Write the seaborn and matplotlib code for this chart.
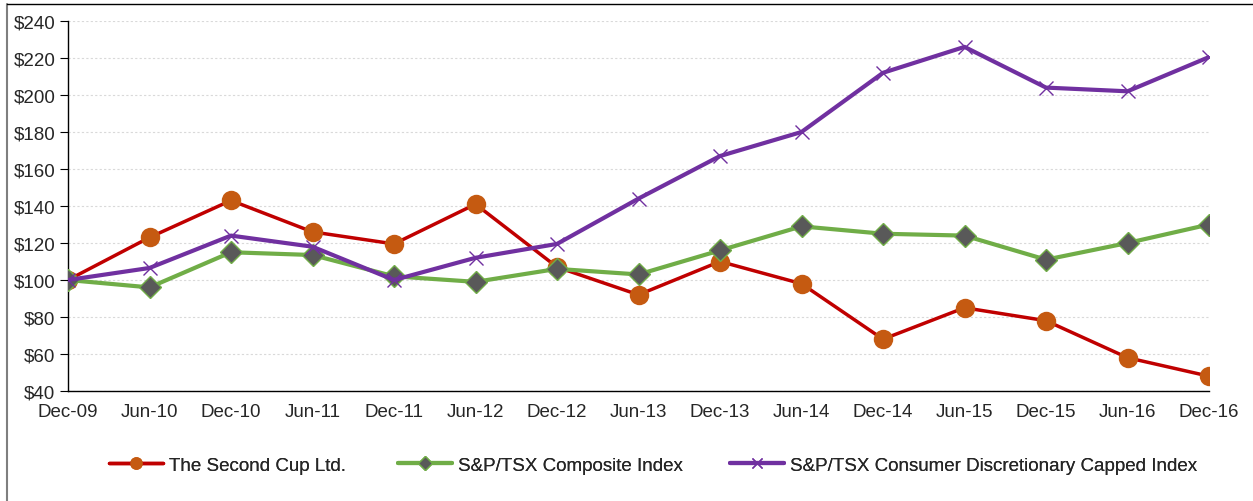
import matplotlib
matplotlib.use("Agg")
import matplotlib.pyplot as plt
import matplotlib.lines as mlines
import pandas as pd
import seaborn as sns

periods = ["Dec-09", "Jun-10", "Dec-10", "Jun-11", "Dec-11", "Jun-12", "Dec-12",
           "Jun-13", "Dec-13", "Jun-14", "Dec-14", "Jun-15", "Dec-15", "Jun-16", "Dec-16"]
second_cup = [100, 123, 143, 126, 119.5, 141, 107, 92, 110, 98, 68, 85, 78, 58, 48]
composite = [100, 96, 115, 113.5, 102, 99, 106, 103, 116, 129, 125, 124, 111, 120, 130]
consumer_disc = [100, 106.5, 124, 118, 100, 112, 119.5, 144, 167, 180, 212, 226, 204, 202, 220.5]
y_ticks = list(range(40, 241, 20))

series_names = ["The Second Cup Ltd.", "S&P/TSX Composite Index",
                "S&P/TSX Consumer Discretionary Capped Index"]

df = pd.DataFrame({
    "period": periods * 3,
    "x": list(range(len(periods))) * 3,
    "value": second_cup + composite + consumer_disc,
    "series": [series_names[0]] * len(periods) + [series_names[1]] * len(periods)
              + [series_names[2]] * len(periods),
})

sns.set_style("white")
plt.rcParams["font.family"] = ["Liberation Sans", "DejaVu Sans"]

fig = plt.figure(figsize=(12.53, 5.02), dpi=100)
ax = fig.add_axes([68 / 1253, 1 - 392 / 502, (1209 - 68) / 1253, (392 - 22) / 502])

styles = {
    series_names[0]: dict(color="#c00000", marker="o", ms=14, mfc="#c55a11", mec="#c55a11", mew=0, lw=2.5),
    series_names[1]: dict(color="#70ad47", marker="D", ms=11, mfc="#595959", mec="#70ad47", mew=1, lw=3),
    series_names[2]: dict(color="#7030a0", marker="x", ms=10, mfc="#7030a0", mec="#7030a0", mew=1, lw=3),
}

handles = []
for name in series_names:
    st = styles[name]
    sub = df[df["series"] == name]
    sns.lineplot(data=sub, x="x", y="value", ax=ax, color=st["color"], linewidth=st["lw"],
                 marker=st["marker"], markersize=st["ms"], markerfacecolor=st["mfc"],
                 markeredgecolor=st["mec"], markeredgewidth=st["mew"], zorder=3)
    handles.append(mlines.Line2D([], [], color=st["color"], linewidth=st["lw"], marker=st["marker"],
                                 markersize=st["ms"] * 0.65, markerfacecolor=st["mfc"],
                                 markeredgecolor=st["mec"], markeredgewidth=st["mew"], label=name))

ax.set_xlim(0, len(periods) - 1)
ax.set_ylim(40, 240)
ax.set_xticks(range(len(periods)))
ax.set_xticklabels(periods, fontsize=13.5)
ax.set_yticks(y_ticks)
ax.set_yticklabels([f"${v}" for v in y_ticks], fontsize=13.5)
ax.set_xlabel("")
ax.set_ylabel("")
ax.grid(axis="y", color="#d9d9d9", linestyle=(0, (2, 2)), linewidth=0.8)
ax.set_axisbelow(True)
for side in ["top", "right"]:
    ax.spines[side].set_visible(False)
for side in ["left", "bottom"]:
    ax.spines[side].set_color("black")
    ax.spines[side].set_linewidth(1)
ax.tick_params(axis="y", left=True, length=6, color="black", pad=3)
ax.tick_params(axis="x", bottom=False, pad=5)
if ax.get_legend() is not None:
    ax.get_legend().remove()

# Excel-style legend: three entries at fixed positions
legend_x = [109, 398, 730]
for h, lx in zip(handles, legend_x):
    leg = fig.legend(handles=[h], loc="center left", bbox_to_anchor=(lx / 1253, 1 - 466 / 502),
                     frameon=False, fontsize=13.5, handlelength=2.9, handletextpad=0.3,
                     borderpad=0, borderaxespad=0)
    fig.add_artist(leg)

# outer frame lines
fig.add_artist(mlines.Line2D([7 / 1253, 7 / 1253], [0, 1 - 5 / 502], color="#7f7f7f", linewidth=1.5))
fig.add_artist(mlines.Line2D([7 / 1253, 1], [1 - 5 / 502, 1 - 5 / 502], color="black", linewidth=1))

fig.savefig("out.png", dpi=100)
